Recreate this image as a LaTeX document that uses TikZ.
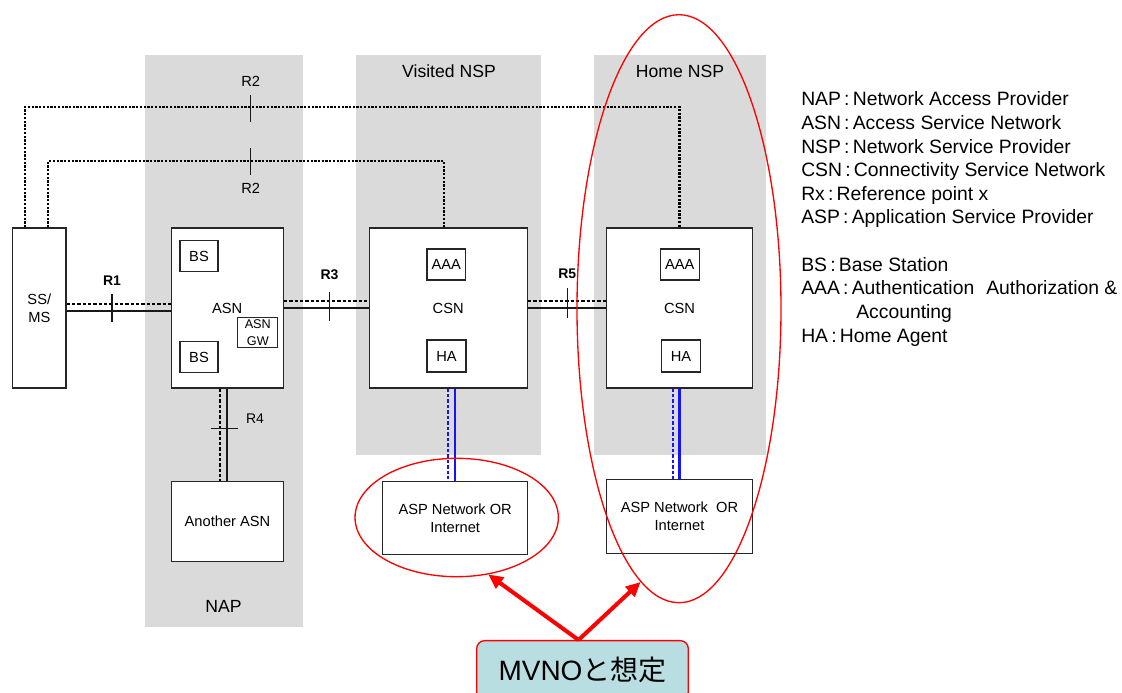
\documentclass[tikz,border=0pt]{standalone}
\usepackage{fontspec}
\setmainfont{Liberation Sans}
\newfontfamily\cjkfont{Noto Sans CJK JP}
\usetikzlibrary{arrows.meta,shapes.geometric}
\definecolor{bandgray}{RGB}{218,218,218}
\definecolor{calloutfill}{RGB}{185,222,226}
\definecolor{linkblue}{RGB}{20,20,255}
\newcommand\legcolon{\,:\,}
\begin{document}
\begin{tikzpicture}[x=0.75pt,y=-0.75pt,
  netbox/.style={draw=black!85, line width=0.8pt, fill=white, inner sep=0pt, align=center,
    font=\fontsize{11}{13.75}\selectfont},
  solidline/.style={draw=black!90, line width=1.6pt},
  dashline/.style={draw=black, line width=1.4pt, dash pattern=on 2.6pt off 1.4pt},
  dotline/.style={draw=black, line width=1.6pt, dash pattern=on 1.7pt off 1.1pt},
  tickline/.style={draw=black!90, line width=0.8pt},
  bluesolid/.style={draw=linkblue, line width=1.6pt},
  bluedash/.style={draw=linkblue, line width=1.4pt, dash pattern=on 2.6pt off 1.5pt},
  reflabel/.style={inner sep=0pt, font=\fontsize{11}{13}\selectfont},
  boldlabel/.style={inner sep=0pt, font=\fontsize{10.5}{12}\selectfont\bfseries},
  bandlabel/.style={inner sep=0pt, font=\fontsize{13.2}{15}\selectfont},
  legendline/.style={anchor=base west, inner sep=0pt, font=\fontsize{14.5}{17}\selectfont},
  redring/.style={ellipse, draw=red, line width=1pt, inner sep=0pt},
  redarrow/.style={draw=red, line width=3pt, -{Triangle[length=11pt,width=10pt]}},
]
\clip (0,0) rectangle (1122,693);

% gray provider bands
\fill[bandgray] (145,55) rectangle (303,627);
\fill[bandgray] (356,55) rectangle (541,455);
\fill[bandgray] (594,55) rectangle (766,455);

\node[bandlabel] (vnsp) at (449,71) {Visited NSP};
\node[bandlabel] (hnsp) at (680,71) {Home NSP};
\node[bandlabel] (nap) at (223.5,606) {NAP};

% boxes
\node[netbox, minimum width=40pt, minimum height=120pt] (ssms) at (39.3,308) {SS/\\MS};
\node[netbox, minimum width=84.2pt, minimum height=120pt] (asn) at (227.2,308) {ASN};
\node[netbox, minimum width=28.5pt, minimum height=23.2pt] (bs1) at (199,256.2) {BS};
\node[netbox, minimum width=28.5pt, minimum height=23pt] (bs2) at (199,357) {BS};
\node[netbox, minimum width=29.8pt, minimum height=22.3pt, font=\fontsize{9.5}{12.3}\selectfont] (asngw) at (257.8,332.8) {ASN\\GW};

\node[netbox, minimum width=118.7pt, minimum height=120pt] (vcsn) at (448.2,308) {CSN};
\node[netbox, minimum width=29pt, minimum height=23.25pt] (vaaa) at (446.3,264.5) {AAA};
\node[netbox, minimum width=29.25pt, minimum height=24pt] (vha) at (446.5,356) {HA};

\node[netbox, minimum width=109.2pt, minimum height=120pt] (hcsn) at (679.5,308) {CSN};
\node[netbox, minimum width=29.5pt, minimum height=23.25pt] (haaa) at (679.7,264.5) {AAA};
\node[netbox, minimum width=29pt, minimum height=24pt] (hha) at (681,356) {HA};

\node[netbox, minimum width=83.7pt, minimum height=60pt] (another) at (227.5,521.7) {Another ASN};
\node[netbox, minimum width=108.75pt, minimum height=54.5pt] (vasp) at (455.2,518) {ASP Network OR\\Internet};
\node[netbox, minimum width=109.2pt, minimum height=55.3pt] (hasp) at (679.5,516.2) {ASP Network\ \ OR\\Internet};

% R1
\draw[dashline] ([yshift=3pt]ssms.east) -- ([yshift=3pt]asn.west);
\draw[solidline] ([yshift=-2.25pt]ssms.east) -- ([yshift=-2.25pt]asn.west);
\draw[tickline] (112,294) -- (112,322);
\node[boldlabel] (r1) at (112,281) {R1};

% R3
\draw[dashline] ([yshift=5.25pt]asn.east) -- ([yshift=5.25pt]vcsn.west);
\draw[solidline] (asn.east) -- (vcsn.west);
\draw[tickline] (329.5,292) -- (329.5,321);
\node[boldlabel] (r3) at (329.5,275) {R3};

% R5
\draw[dashline] ([yshift=5.5pt]vcsn.east) -- ([yshift=5.5pt]hcsn.west);
\draw[solidline] (vcsn.east) -- (hcsn.west);
\draw[tickline] (567.3,288) -- (567.3,318);
\node[boldlabel] (r5) at (567.3,273.5) {R5};

% R4
\coordinate (r4a) at ([xshift=-5.4pt]asn.south);
\draw[dashline] (r4a) -- (r4a |- another.north);
\draw[solidline] (asn.south) -- (asn.south |- another.north);
\draw[tickline] (210.7,428.3) -- (237.7,428.3);
\node[reflabel, font=\fontsize{10.5}{12}\selectfont] (r4) at (255,419) {R4};

% R2
\draw[dotline] ([xshift=-10.7pt]ssms.north) -- ++(0,-120.3) -| (hcsn.north);
\draw[dotline] ([xshift=6.75pt]ssms.north) -- ++(0,-66.3) -| ([xshift=-3pt]vcsn.north);
\draw[tickline] (250.7,95) -- (250.7,121.7);
\draw[tickline] (250.7,148) -- (250.7,175);
\node[reflabel] (r2a) at (250.7,81) {R2};
\node[reflabel] (r2b) at (250.7,188) {R2};

% blue links
\draw[bluedash] (vcsn.south) -- (vcsn.south |- vasp.north);
\draw[bluesolid] (vasp.north |- vcsn.south) -- (vasp.north);
\coordinate (hbd) at ([xshift=-5.1pt]hcsn.south);
\draw[bluedash] (hbd) -- (hbd |- hasp.north);
\draw[bluesolid] (hcsn.south) -- (hcsn.south |- hasp.north);

% red rings
\node[redring, minimum width=152.5pt, minimum height=88.8pt] (vell) at (456.7,517.5) {};
\node[redring, minimum width=153pt, minimum height=441pt] (hell) at (679,308.7) {};

% callout
\node[draw=red, fill=calloutfill, rounded corners=6pt, line width=1pt, minimum width=158.7pt,
  minimum height=44.5pt, inner sep=0pt, font=\fontsize{21}{21}\selectfont] (mvno) at (582.5,670.3) {MVNO{\cjkfont と想定}};
\coordinate (apex) at ([xshift=-3pt]mvno.north);
\draw[redarrow] (apex) -- (vell.-61);
\draw[redarrow] (apex) -- (hell.262);

% legend
\node[legendline] (lg1) at (801,105) {NAP\legcolon Network Access Provider};
\node[legendline] (lg2) at (801,129) {ASN\legcolon Access Service Network};
\node[legendline] (lg3) at (801,153) {NSP\legcolon Network Service Provider};
\node[legendline] (lg4) at (801,176) {CSN\legcolon Connectivity Service Network};
\node[legendline] (lg5) at (801,200) {Rx\legcolon Reference point x};
\node[legendline] (lg6) at (801,223) {ASP\legcolon Application Service Provider};
\node[legendline] (lg7) at (801,271) {BS\legcolon Base Station};
\node[legendline] (lg8) at (801,294) {AAA\legcolon Authentication\hspace{9pt}Authorization \&};
\node[legendline] (lg9) at (856,318) {Accounting};
\node[legendline] (lg10) at (801,342) {HA\legcolon Home Agent};
\end{tikzpicture}
\end{document}
